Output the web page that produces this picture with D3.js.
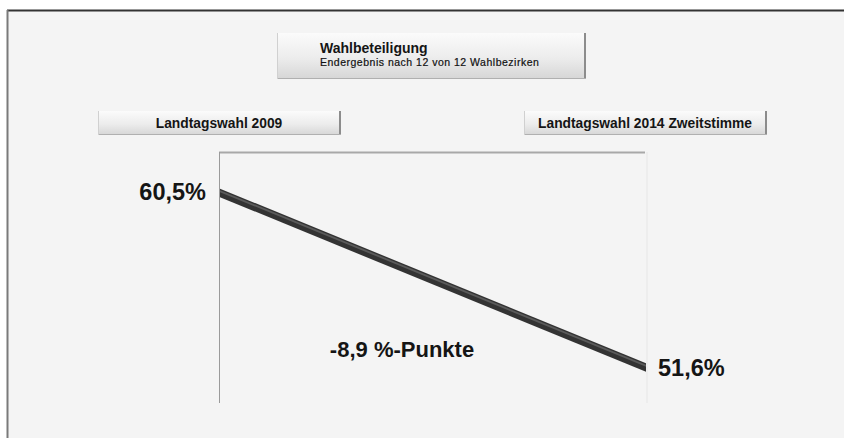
<!DOCTYPE html>
<html>
<head>
<meta charset="utf-8">
<script src="https://cdn.jsdelivr.net/npm/d3@7"></script>
<style>
  html, body { margin: 0; padding: 0; background: #ffffff; overflow: hidden; }
  svg { display: block; font-family: "Liberation Sans", Arial, sans-serif; }
</style>
</head>
<body>
<svg id="chart" width="844" height="438"></svg>
<script>
// Wahlbeteiligung data
const elections = ["Landtagswahl 2009", "Landtagswahl 2014 Zweitstimme"];
const turnout = [60.5, 51.6];
const titleText = "Wahlbeteiligung";
const subtitleText = "Endergebnis nach 12 von 12 Wahlbezirken";

const fmt = v => v.toFixed(1).replace(".", ",");
const pts = elections.map((e, i) => ({ name: e, value: turnout[i] }));

const svg = d3.select("#chart");
const W = 844, H = 438;

// page frame
svg.append("rect").attr("x", 7).attr("y", 10).attr("width", W - 7).attr("height", H - 10).attr("fill", "#f4f4f4");
svg.append("line").attr("x1", 7).attr("x2", W).attr("y1", 10.5).attr("y2", 10.5).attr("stroke", "#333").attr("stroke-width", 2);
svg.append("line").attr("x1", 7.5).attr("x2", 7.5).attr("y1", 10).attr("y2", H).attr("stroke", "#7a7a7a").attr("stroke-width", 2);

const defs = svg.append("defs");
const grad = defs.append("linearGradient").attr("id", "btn").attr("x1", 0).attr("x2", 0).attr("y1", 0).attr("y2", 1);
grad.append("stop").attr("offset", "0%").attr("stop-color", "#fbfbfb");
grad.append("stop").attr("offset", "55%").attr("stop-color", "#ececec");
grad.append("stop").attr("offset", "100%").attr("stop-color", "#d6d6d6");

function button(x, y, w, h) {
  const g = svg.append("g");
  g.append("rect").attr("x", x).attr("y", y).attr("width", w).attr("height", h).attr("fill", "url(#btn)");
  g.append("line").attr("x1", x + w - 1).attr("x2", x + w - 1).attr("y1", y).attr("y2", y + h).attr("stroke", "#8c8c8c").attr("stroke-width", 2);
  g.append("line").attr("x1", x).attr("x2", x + w).attr("y1", y + h - 0.5).attr("y2", y + h - 0.5).attr("stroke", "#b0b0b0").attr("stroke-width", 1);
  g.append("line").attr("x1", x + 0.5).attr("x2", x + 0.5).attr("y1", y).attr("y2", y + h).attr("stroke", "#d0d0d0").attr("stroke-width", 1);
  return g;
}

// scales
const x = d3.scalePoint().domain(elections).range([219, 645]);
const y = d3.scaleLinear().domain([49.8, 62.6]).range([403, 152]);

// title box
const tb = button(277, 33, 309, 46);
tb.append("text").attr("x", 320).attr("y", 53).attr("font-size", 14).attr("font-weight", "bold").attr("fill", "#151515").text(titleText);
tb.append("text").attr("x", 320).attr("y", 66).attr("font-size", 10.5).attr("fill", "#111").attr("letter-spacing", 0.5)
  .attr("stroke", "#111").attr("stroke-width", 0.2).text(subtitleText);

// category buttons
elections.forEach(e => {
  const b = button(x(e) - 121, 111, 243, 24);
  b.append("text").attr("x", x(e)).attr("y", 127.5).attr("text-anchor", "middle")
    .attr("font-size", 13.8).attr("font-weight", "bold").attr("fill", "#151515").text(e);
});

// plot frame
const [y0, y1] = y.range();
svg.append("line").attr("x1", x.range()[1] + 2).attr("x2", x.range()[1] + 2).attr("y1", y1).attr("y2", y0).attr("stroke", "#e6e6e6");
svg.append("line").attr("x1", x.range()[0]).attr("x2", x.range()[1]).attr("y1", y1 + 0.5).attr("y2", y1 + 0.5).attr("stroke", "#a8a8a8").attr("stroke-width", 2);
svg.append("line").attr("x1", x.range()[0] + 0.5).attr("x2", x.range()[0] + 0.5).attr("y1", y1).attr("y2", y0).attr("stroke", "#9a9a9a").attr("stroke-width", 1);

// turnout line (thick band with vertical ends)
const band = d3.area().x(d => x(d.name)).y0(d => y(d.value) - 4.5).y1(d => y(d.value) + 4);
const shine = d3.area().x(d => x(d.name)).y0(d => y(d.value) - 3).y1(d => y(d.value) - 1);
svg.append("path").datum(pts).attr("d", band).attr("fill", "#333").attr("transform", "translate(1,0)");
svg.append("path").datum(pts).attr("d", shine).attr("fill", "#5a5a5a").attr("transform", "translate(1,0)");

// value labels
svg.append("text").attr("x", x(elections[0]) - 13).attr("y", y(turnout[0]) + 7)
  .attr("text-anchor", "end").attr("font-size", 23.5).attr("font-weight", "bold").attr("fill", "#151515")
  .text(fmt(turnout[0]) + "%");
svg.append("text").attr("x", x(elections[1]) + 13).attr("y", y(turnout[1]) + 8)
  .attr("text-anchor", "start").attr("font-size", 23.5).attr("font-weight", "bold").attr("fill", "#151515")
  .text(fmt(turnout[1]) + "%");

// difference
svg.append("text").attr("x", 402).attr("y", 357).attr("text-anchor", "middle")
  .attr("font-size", 22).attr("font-weight", "bold").attr("fill", "#151515")
  .text(fmt(turnout[1] - turnout[0]) + " %-Punkte");
</script>
</body>
</html>
